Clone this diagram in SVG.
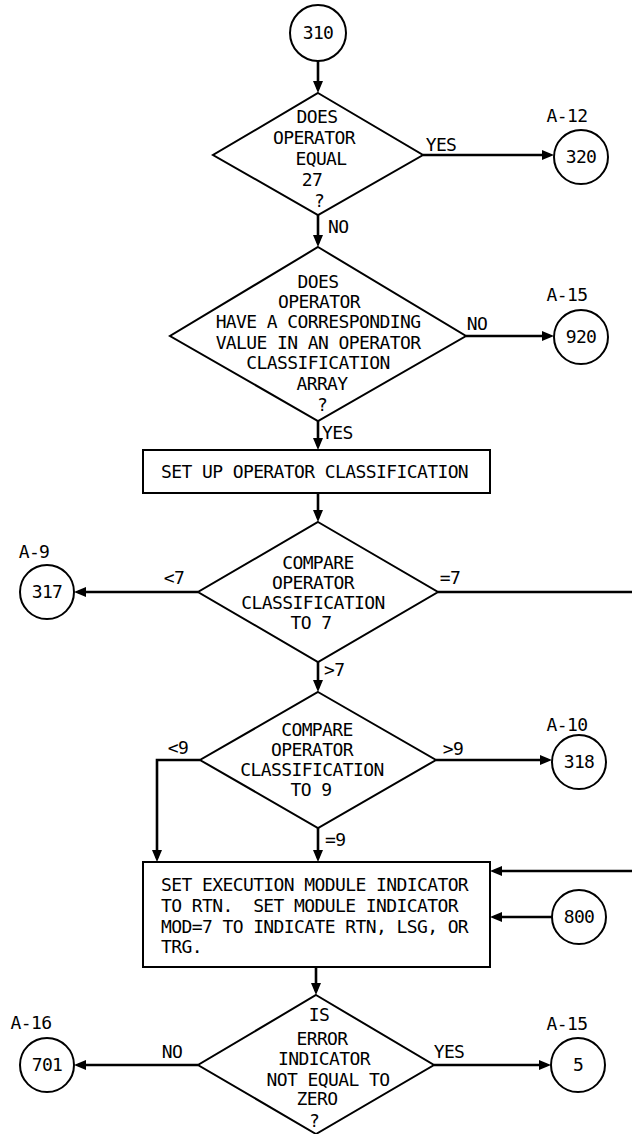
<svg xmlns="http://www.w3.org/2000/svg" width="632" height="1134" viewBox="0 0 632 1134">
<style>
text{font-family:"DejaVu Sans Mono","Liberation Mono",monospace;font-size:18px;letter-spacing:-0.6px;fill:#000}
.m{text-anchor:middle}
.s{fill:#fff;stroke:#000;stroke-width:2}
.c{fill:none;stroke:#000;stroke-width:2.6}
</style>
<defs>
<marker id="ah" markerUnits="userSpaceOnUse" markerWidth="14" markerHeight="12" refX="8" refY="5" orient="auto">
<path d="M0,0 L12,5 L0,10 z" fill="#000"/>
</marker>
</defs>
<rect width="632" height="1134" fill="#fff"/>
<g id="connectors">
<line class="c" x1="318" y1="61" x2="318" y2="89" marker-end="url(#ah)"/>
<line class="c" x1="423" y1="155" x2="550" y2="155" marker-end="url(#ah)"/>
<line class="c" x1="318" y1="215" x2="318" y2="243" marker-end="url(#ah)"/>
<line class="c" x1="466" y1="336" x2="550" y2="336" marker-end="url(#ah)"/>
<line class="c" x1="318" y1="421" x2="318" y2="446" marker-end="url(#ah)"/>
<line class="c" x1="318" y1="493" x2="318" y2="518" marker-end="url(#ah)"/>
<line class="c" x1="198" y1="592" x2="78" y2="592" marker-end="url(#ah)"/>
<line class="c" x1="438" y1="592" x2="632" y2="592"/>
<line class="c" x1="318" y1="662" x2="318" y2="688" marker-end="url(#ah)"/>
<path class="c" d="M200,760 L157,760 L157,858" marker-end="url(#ah)"/>
<line class="c" x1="436" y1="760" x2="548" y2="760" marker-end="url(#ah)"/>
<line class="c" x1="318" y1="828" x2="318" y2="858" marker-end="url(#ah)"/>
<line class="c" x1="632" y1="871" x2="494" y2="871" marker-end="url(#ah)"/>
<line class="c" x1="552" y1="917" x2="494" y2="917" marker-end="url(#ah)"/>
<line class="c" x1="316" y1="967" x2="316" y2="991" marker-end="url(#ah)"/>
<line class="c" x1="198" y1="1065" x2="78" y2="1065" marker-end="url(#ah)"/>
<line class="c" x1="434" y1="1065" x2="547" y2="1065" marker-end="url(#ah)"/>
<text class="m" x="441" y="151">YES</text>
<text x="328" y="233">NO</text>
<text class="m" x="477" y="330">NO</text>
<text x="322" y="439">YES</text>
<text class="m" x="174" y="584">&lt;7</text>
<text class="m" x="450" y="584">=7</text>
<text x="324" y="676">&gt;7</text>
<text class="m" x="178" y="754">&lt;9</text>
<text class="m" x="453" y="755">&gt;9</text>
<text x="325" y="846">=9</text>
<text class="m" x="172" y="1058">NO</text>
<text class="m" x="449" y="1058">YES</text>
</g>
<g id="n310">
<circle class="s" cx="318" cy="33" r="28"/>
<text class="m" x="318" y="39">310</text>
</g>
<g id="d1">
<polygon class="s" points="318,93 423,155 318,215 213,155"/>
<text class="m" x="317" y="123">DOES</text>
<text class="m" x="314" y="144">OPERATOR</text>
<text class="m" x="321" y="165">EQUAL</text>
<text class="m" x="312" y="186">27</text>
<text class="m" x="319" y="207">?</text>
</g>
<g id="n320">
<text class="m" x="567" y="122">A-12</text>
<circle class="s" cx="581" cy="157" r="27"/>
<text class="m" x="581" y="163">320</text>
</g>
<g id="d2">
<polygon class="s" points="318,247 466,336 318,421 170,336"/>
<text class="m" x="318" y="288">DOES</text>
<text class="m" x="319" y="308">OPERATOR</text>
<text class="m" x="318" y="328">HAVE A CORRESPONDING</text>
<text class="m" x="318" y="349">VALUE IN AN OPERATOR</text>
<text class="m" x="318" y="369">CLASSIFICATION</text>
<text class="m" x="322" y="390">ARRAY</text>
<text class="m" x="322" y="411">?</text>
</g>
<g id="n920">
<text class="m" x="567" y="301">A-15</text>
<circle class="s" cx="581" cy="337" r="27"/>
<text class="m" x="581" y="343">920</text>
</g>
<g id="r1">
<rect class="s" x="143" y="450" width="347" height="43"/>
<text x="161" y="478">SET UP OPERATOR CLASSIFICATION</text>
</g>
<g id="d3">
<polygon class="s" points="318,522 438,592 318,662 198,592"/>
<text class="m" x="318" y="569">COMPARE</text>
<text class="m" x="313" y="589">OPERATOR</text>
<text class="m" x="313" y="609">CLASSIFICATION</text>
<text class="m" x="311" y="629">TO 7</text>
</g>
<g id="n317">
<text class="m" x="34" y="558">A-9</text>
<circle class="s" cx="47" cy="592" r="27"/>
<text class="m" x="47" y="598">317</text>
</g>
<g id="d4">
<polygon class="s" points="318,692 436,760 318,828 200,760"/>
<text class="m" x="317" y="736">COMPARE</text>
<text class="m" x="312" y="756">OPERATOR</text>
<text class="m" x="312" y="776">CLASSIFICATION</text>
<text class="m" x="311" y="796">TO 9</text>
</g>
<g id="n318">
<text class="m" x="567" y="731">A-10</text>
<circle class="s" cx="579" cy="762" r="27"/>
<text class="m" x="579" y="768">318</text>
</g>
<g id="r2">
<rect class="s" x="143" y="862" width="347" height="105"/>
<text x="161" y="891">SET EXECUTION MODULE INDICATOR</text>
<text x="161" y="912" xml:space="preserve">TO RTN.  SET MODULE INDICATOR</text>
<text x="161" y="933">MOD=7 TO INDICATE RTN, LSG, OR</text>
<text x="161" y="953">TRG.</text>
</g>
<g id="n800">
<circle class="s" cx="579" cy="917" r="27"/>
<text class="m" x="579" y="923">800</text>
</g>
<g id="d5">
<polygon class="s" points="316,995 434,1065 316,1134 198,1065"/>
<text class="m" x="319" y="1021">IS</text>
<text class="m" x="322" y="1045">ERROR</text>
<text class="m" x="324" y="1065">INDICATOR</text>
<text class="m" x="328" y="1086">NOT EQUAL TO</text>
<text class="m" x="317" y="1105">ZERO</text>
<text class="m" x="314" y="1127">?</text>
</g>
<g id="n701">
<text class="m" x="31" y="1029">A-16</text>
<circle class="s" cx="47" cy="1065" r="27"/>
<text class="m" x="47" y="1071">701</text>
</g>
<g id="n5">
<text class="m" x="567" y="1030">A-15</text>
<circle class="s" cx="578" cy="1065" r="27"/>
<text class="m" x="578" y="1071">5</text>
</g>
</svg>
